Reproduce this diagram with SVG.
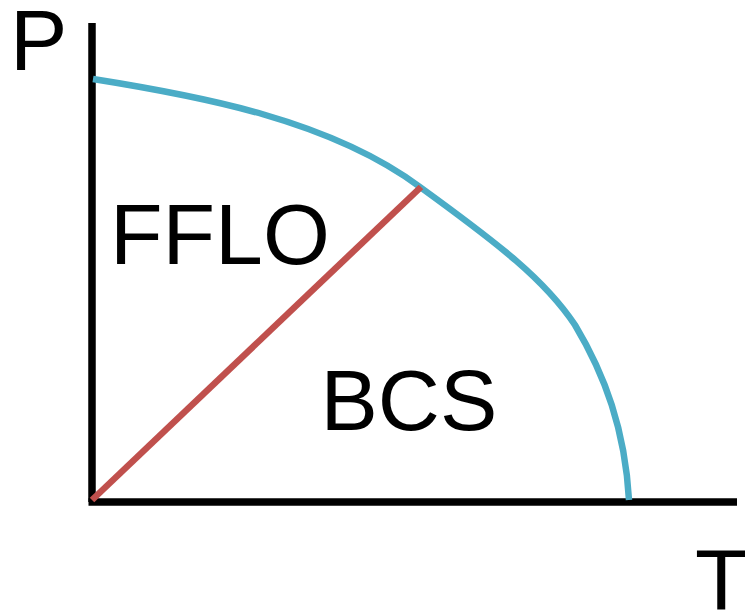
<svg xmlns="http://www.w3.org/2000/svg" width="745" height="611" viewBox="0 0 745 611">
<style>
.lbl{font-family:"Liberation Sans",Arial,sans-serif;font-size:86px;fill:#000}
.axis{stroke:#000;stroke-width:7.5;fill:none}
</style>
<rect width="745" height="611" fill="#fff"/>
<g id="connectors">
<line class="axis" x1="92" y1="23" x2="92" y2="502"/>
<line class="axis" x1="88.5" y1="502" x2="737" y2="502"/>
<path d="M93,79 C200,96 330,120 420,187 C500,245 545,280 575,325 C605,375 625,430 629,500" fill="none" stroke="#4BACC6" stroke-width="6.5"/>
<line x1="92" y1="500" x2="421" y2="187" stroke="#C0504D" stroke-width="6.5"/>
</g>
<g id="label-P"><text class="lbl" x="10" y="70">P</text></g>
<g id="label-T"><text class="lbl" x="695" y="609">T</text></g>
<g id="label-FFLO"><text class="lbl" x="110" y="264">FFLO</text></g>
<g id="label-BCS"><text class="lbl" x="320.5" y="430">BCS</text></g>
</svg>
